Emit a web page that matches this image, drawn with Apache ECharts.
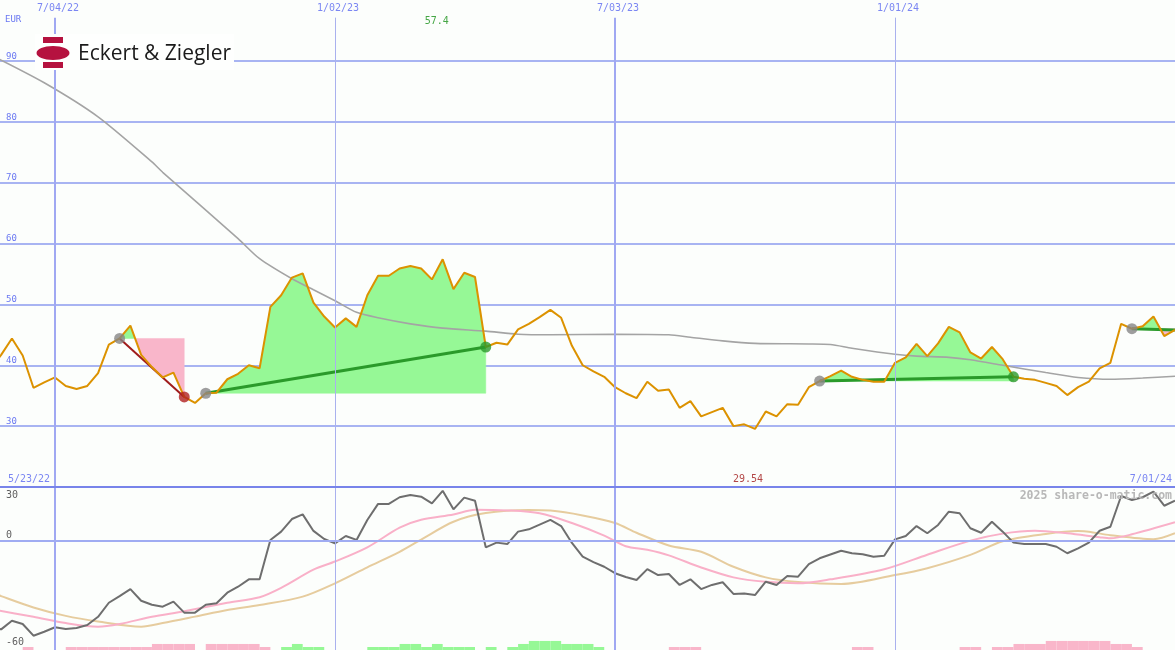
<!DOCTYPE html>
<html><head><meta charset="utf-8">
<script src="https://cdn.jsdelivr.net/npm/echarts@6/dist/echarts.min.js"></script>
<style>html,body{margin:0;padding:0;background:#fcfefc}#c{width:1175px;height:650px}</style>
</head><body><div id="c"></div>
<script>
// ---------- data ----------
const firstWeek = '2022-05-23';       // weekly points (Mondays)
const weekCount = 111;                 // 5/23/22 .. 7/01/24
const axisStart = '2022-05-29T06:00:00Z';
const axisEnd = '2024-07-01';

const price = [39.5,41.7,44.4,41.6,36.3,37.2,38.0,36.6,36.1,36.6,38.7,43.4,44.4,46.5,41.7,39.7,38.0,38.8,34.8,33.8,
  35.4,35.5,37.7,38.6,40.0,39.5,49.6,51.5,54.4,55.1,50.3,48.0,46.2,47.7,46.3,51.5,54.7,54.7,55.9,56.3,
  55.9,54.1,57.4,52.5,55.2,54.5,43.0,43.7,43.4,45.9,46.8,47.9,49.1,47.8,43.2,40.0,39.0,38.1,36.4,35.4,
  34.6,37.3,35.8,36.0,33.0,34.1,31.6,32.3,33.0,30.0,30.3,29.54,32.4,31.6,33.6,33.5,36.4,37.4,38.2,39.1,
  38.1,37.6,37.3,37.3,40.4,41.3,43.5,41.5,43.6,46.3,45.4,42.1,41.1,43.0,41.0,38.1,37.8,37.6,37.1,36.6,
  35.1,36.4,37.3,39.5,40.4,46.8,46.0,46.4,48.0,44.8,45.8];

const maWeeks = [0,5,10,15,16,23,25,28,30,32,34,36,39,42,46,49,52,58,63,65,68,71,76,78,80,84,86,89,91,94,98,101,104,107,110];
const maValues = [91.0,86.4,80.8,73.4,71.7,60.8,57.5,54.2,52.4,50.6,48.7,47.8,46.8,46.1,45.6,45.1,45.0,45.1,45.0,44.6,
  44.0,43.6,43.5,43.4,42.8,41.8,41.5,41.3,40.9,40.0,38.8,38.0,37.7,37.9,38.2];

const oscillator = [-47.8,-49.1,-44.3,-46.1,-52.6,-50.4,-47.9,-48.9,-48.3,-46.7,-42.1,-34.3,-30.6,-26.7,-33.2,-35.4,-36.5,-33.7,-39.8,-39.8,
  -35.4,-34.6,-28.7,-25.4,-21.3,-21.3,0.6,5.2,12.2,14.8,5.6,1.1,-1.3,2.8,0.6,11.7,20.6,20.6,24.3,25.6,
  24.6,20.9,27.9,17.6,24.1,22.4,-3.5,-0.9,-1.7,5.2,6.5,9.1,11.7,8.3,-1.1,-8.7,-11.7,-14.3,-17.9,-20.0,
  -21.7,-15.6,-18.9,-18.3,-24.4,-21.3,-26.7,-24.4,-22.9,-29.4,-29.1,-30.0,-22.6,-24.4,-19.4,-19.8,-12.8,-9.6,-7.5,-5.4,
  -6.8,-7.4,-8.7,-8.2,0.9,2.8,8.3,4.3,8.9,16.3,15.4,7.1,4.6,10.7,5.2,-0.9,-1.7,-1.7,-1.7,-3.2,
  -6.8,-4.1,-0.9,5.7,7.9,25.0,22.8,24.3,27.4,19.6,22.4];

const pinkWeeks = [0,4,7,10,12,15,18,22,25,27,30,32,35,38,40,43,45,48,51,54,57,59,61,63,66,69,72,75,78,83,87,91,94,97,100,103,104,106,110];
const pinkValues = [-37.8,-42.1,-45.6,-47.6,-46.1,-42.1,-39.0,-34.3,-31.2,-26.0,-15.9,-11.4,-3.5,7.4,11.8,14.7,17.4,17.0,15.4,10.0,
  3.0,-2.9,-4.9,-8.0,-14.7,-20.2,-22.7,-23.5,-21.3,-15.7,-7.6,0.2,4.1,5.7,4.3,2.1,1.5,3.7,10.4];

const tanWeeks = [0,1,4,7,10,14,16,19,22,25,29,32,35,38,40,43,46,50,52,55,58,60,63,66,69,72,75,79,84,87,91,94,98,101,102,104,108,110];
const tanValues = [-28.3,-30.6,-36.9,-41.6,-44.7,-47.6,-45.6,-42.0,-38.3,-35.6,-30.9,-23.5,-14.6,-6.0,0.8,10.7,15.5,17.2,16.9,14.2,
  10.0,4.6,-2.5,-6.0,-14.3,-20.2,-22.8,-23.9,-18.9,-15.1,-7.7,-0.1,3.9,5.5,5.2,3.2,1.0,4.3];

const signal = [0,0,0,-1,0,0,0,-1,-1,-1,-1,-1,-1,-1,-1,-2,-2,-2,-2,0,
  -2,-2,-2,-2,-2,-1,0,1,2,1,1,0,0,0,0,1,1,1,2,2,
  1,2,1,1,1,0,1,0,1,2,3,3,3,2,2,2,1,0,0,0,
  0,0,0,-1,-1,-1,0,0,0,0,0,0,0,0,0,0,0,0,0,0,
  -1,-1,0,0,0,0,0,0,0,0,-1,-1,0,-1,-1,-2,-2,-2,-3,-3,
  -3,-3,-3,-3,-2,-2,-1,0,0,0,0];

const tradeEntryWeek = [12, 20, 77, 106];
const tradeExitWeek = [18, 46, 95, 110];
const tradeEntryPrice = [44.4, 35.4, 37.4, 46.0];
const tradeExitPrice = [34.8, 43.0, 38.1, 45.8];
const tradeClosed = [true, true, true, false];

const gridDates = ['2022-07-04', '2023-01-02', '2023-07-03', '2024-01-01'];
const gridDateLabels = ['7/04/22', '1/02/23', '7/03/23', '1/01/24'];
const priceTicks = [30, 40, 50, 60, 70, 80, 90];
const maxText = '57.4', maxWeek = 42;
const minText = '29.54', minWeek = 71;
const startText = '5/23/22', endText = '7/01/24';

// ---------- build ----------
const DAY = 864e5;
const t0 = Date.parse(firstWeek);
const dates = [];
for (let i = 0; i < weekCount; i++) dates.push(t0 + i * 7 * DAY);
const xMin = Date.parse(axisStart), xMax = Date.parse(axisEnd);
const gridTs = gridDates.map(d => Date.parse(d));

const GREEN_FILL = '#96f896', PINK_FILL = '#f9b6ca';
const mono = 'DejaVu Sans Mono';

function fillRender(params, api) {
  const t = params.dataIndex;
  const ei = tradeEntryWeek[t], xi = tradeExitWeek[t], L = tradeEntryPrice[t];
  const children = [];
  const poly = (pts, s) => ({type: 'polygon', shape: {points: pts}, style: {fill: s < 0 ? PINK_FILL : GREEN_FILL, stroke: s < 0 ? PINK_FILL : GREEN_FILL, lineWidth: 0.5}});
  let run = [api.coord([dates[ei], L])];
  let runSign = 0;
  for (let j = ei; j <= xi; j++) {
    const p = price[j];
    const s = Math.sign(p - L);
    if (j > ei) {
      const p0 = price[j - 1];
      const s0 = Math.sign(p0 - L);
      if (s0 !== 0 && s !== 0 && s0 !== s) {
        const f = (p0 - L) / (p0 - p);
        const c = api.coord([dates[j - 1] + f * (dates[j] - dates[j - 1]), L]);
        run.push(c);
        children.push(poly(run, runSign));
        run = [c];
        runSign = 0;
      }
    }
    if (runSign === 0 && s !== 0) runSign = s;
    run.push(api.coord([dates[j], p]));
  }
  run.push(api.coord([dates[xi], L]));
  children.push(poly(run, runSign));
  return {type: 'group', children};
}

function barRender(params, api) {
  const i = params.dataIndex;
  const lv = signal[i];
  if (!lv || i + 1 >= weekCount) return null;
  const a = api.coord([dates[i], 0]);
  const b = api.coord([dates[i + 1], Math.abs(lv)]);
  return {type: 'rect', shape: {x: a[0], y: b[1], width: b[0] - a[0], height: a[1] - b[1]},
    style: {fill: lv > 0 ? GREEN_FILL : PINK_FILL}};
}

const priceData = price.map((v, i) => [dates[i], v]);
const oscData = oscillator.map((v, i) => [dates[i], v]);

const series = [];
// background grid lines (upper) - low z
series.push({
  type: 'line', xAxisIndex: 0, yAxisIndex: 0, data: priceData, z: 0, silent: true,
  symbol: 'none', lineStyle: {opacity: 0},
  markLine: {
    silent: true, symbol: 'none', animation: false, label: {show: false},
    data: gridTs.map((d, i) => [
      {coord: [d, 97.1], lineStyle: {color: i % 2 ? '#a9b1ee' : '#a0a8f2', width: i % 2 ? 1 : 2, type: 'solid'}},
      {coord: [d, 20]}
    ])
  }
});
// lower grid lines
series.push({
  type: 'line', xAxisIndex: 1, yAxisIndex: 1, data: oscData, z: 0, silent: true,
  symbol: 'none', lineStyle: {opacity: 0},
  markLine: {
    silent: true, symbol: 'none', animation: false,
    data: [
      ...gridTs.map((d, i) => ({xAxis: d, label: {show: false}, lineStyle: {color: i % 2 ? '#a9b1ee' : '#a0a8f2', width: i % 2 ? 1 : 2, type: 'solid'}})),
      {yAxis: 0, lineStyle: {color: '#a0acf2', width: 2, type: 'solid'},
        label: {show: true, formatter: '0', position: 'insideStartTop', distance: [6, 1], color: '#606060', fontFamily: mono, fontSize: 10}},
      {yAxis: -60, lineStyle: {color: 'rgba(0,0,0,0)', width: 1, type: 'solid'},
        label: {show: true, formatter: '-60', position: 'insideStartTop', distance: [6, 2], color: '#606060', fontFamily: mono, fontSize: 10}},
      {yAxis: 30, lineStyle: {color: '#7884ea', width: 2, type: 'solid'},
        label: {show: true, formatter: '30', position: 'insideStartBottom', distance: [6, 3], color: '#606060', fontFamily: mono, fontSize: 10}}
    ]
  }
});
// trade fills
series.push({
  type: 'custom', xAxisIndex: 0, yAxisIndex: 0, z: 1, silent: true, clip: true,
  data: tradeEntryWeek.map((e, t) => [dates[e], tradeEntryPrice[t]]),
  renderItem: fillRender
});
// moving average (gray)
series.push({
  type: 'line', xAxisIndex: 0, yAxisIndex: 0, z: 2, silent: true, symbol: 'none', smooth: 0.25,
  data: maWeeks.map((w, i) => [dates[w], maValues[i]]),
  lineStyle: {color: '#a4a4a4', width: 1.6}
});
// trade lines
tradeEntryWeek.forEach((e, t) => {
  const win = tradeExitPrice[t] >= tradeEntryPrice[t] || !tradeClosed[t];
  series.push({
    type: 'line', xAxisIndex: 0, yAxisIndex: 0, z: 3, silent: true, symbol: 'none',
    data: [[dates[e], tradeEntryPrice[t]], [dates[tradeExitWeek[t]], tradeExitPrice[t]]],
    lineStyle: {color: win ? '#2a9a2a' : '#a01c1c', width: win ? 3 : 2}
  });
});
// price line
series.push({
  type: 'line', xAxisIndex: 0, yAxisIndex: 0, z: 4, silent: true, symbol: 'none',
  data: priceData, lineStyle: {color: '#dc9200', width: 2}
});
// trade dots
const dots = [];
tradeEntryWeek.forEach((e, t) => {
  dots.push({value: [dates[e], tradeEntryPrice[t]], itemStyle: {color: '#868686'}});
  if (tradeClosed[t]) {
    const win = tradeExitPrice[t] >= tradeEntryPrice[t];
    dots.push({value: [dates[tradeExitWeek[t]], tradeExitPrice[t]], itemStyle: {color: win ? '#2a9a2a' : '#b02020'}});
  }
});
series.push({type: 'scatter', xAxisIndex: 0, yAxisIndex: 0, z: 5, silent: true, symbolSize: 11, data: dots});
// text labels placed through scales
const lbl = (value, text, color, align, offset) => ({value, name: text,
  label: {show: true, formatter: text, color, align, offset, position: 'inside', fontFamily: mono, fontSize: 10}});
series.push({
  type: 'scatter', xAxisIndex: 0, yAxisIndex: 0, z: 6, silent: true, symbolSize: 0,
  data: [
    ...gridTs.map((d, i) => lbl([d, 98.65], gridDateLabels[i], '#5a68f0', 'center', [3, 0])),
    lbl([dates[maxWeek], 96.55], maxText, '#169016', 'center', [-6, 0]),
    lbl([dates[minWeek], 21.3], minText, '#a01818', 'center', [-7, 0]),
    lbl([xMin, 21.3], startText, '#5a68f0', 'left', [8, 0]),
    lbl([xMax, 21.3], endText, '#5a68f0', 'right', [-3, 0])
  ]
});
// lower panel
series.push({type: 'custom', xAxisIndex: 1, yAxisIndex: 2, z: 1, silent: true, clip: true,
  data: signal.map((v, i) => [dates[i], Math.abs(v)]), renderItem: barRender});
series.push({type: 'line', xAxisIndex: 1, yAxisIndex: 1, z: 2, silent: true, symbol: 'none', smooth: 0.3,
  data: tanWeeks.map((w, i) => [dates[w], tanValues[i]]), lineStyle: {color: '#e6cc9e', width: 2}});
series.push({type: 'line', xAxisIndex: 1, yAxisIndex: 1, z: 3, silent: true, symbol: 'none', smooth: 0.3,
  data: pinkWeeks.map((w, i) => [dates[w], pinkValues[i]]), lineStyle: {color: '#f9b0c8', width: 2}});
series.push({type: 'line', xAxisIndex: 1, yAxisIndex: 1, z: 4, silent: true, symbol: 'none',
  data: oscData, lineStyle: {color: '#6e6e6e', width: 2}});

const option = {
  animation: false,
  backgroundColor: '#fcfefc',
  grid: [
    {left: 0, right: 0, top: 0, height: 487},
    {left: 0, right: 0, top: 487, height: 163}
  ],
  xAxis: [
    {type: 'time', gridIndex: 0, min: xMin, max: xMax, show: false},
    {type: 'time', gridIndex: 1, min: xMin, max: xMax, show: false}
  ],
  yAxis: [
    {type: 'value', gridIndex: 0, min: 20, max: 100, interval: 10,
      axisLine: {show: false}, axisTick: {show: false},
      splitLine: {show: true, showMinLine: false, showMaxLine: false, lineStyle: {color: '#a8b4f2', width: 2}},
      axisLabel: {inside: true, verticalAlign: 'bottom', margin: 6, color: '#6a78f2', fontFamily: mono, fontSize: 9,
        formatter: v => priceTicks.includes(v) ? String(v) : ''}},
    {type: 'value', gridIndex: 1, min: -60.55, max: 30, show: false},
    {type: 'value', gridIndex: 1, min: 0, max: 54, show: false}
  ],
  graphic: [
    {type: 'rect', z: 100, shape: {x: 35, y: 34, width: 199, height: 36}, style: {fill: '#fefffe'}},
    {type: 'rect', z: 101, shape: {x: 43, y: 37, width: 20, height: 6}, style: {fill: '#b5123f'}},
    {type: 'ellipse', z: 101, shape: {cx: 53, cy: 53, rx: 16.5, ry: 7}, style: {fill: '#b5123f'}},
    {type: 'rect', z: 101, shape: {x: 43, y: 62, width: 20, height: 6}, style: {fill: '#b5123f'}},
    {type: 'text', z: 101, x: 78, y: 54, style: {text: 'Eckert & Ziegler', fill: '#1a1a1a', font: '21px "Open Sans"', verticalAlign: 'middle'}},
    {type: 'text', z: 101, x: 5, y: 20, style: {text: 'EUR', fill: '#6a78f2', font: '9px "DejaVu Sans Mono"', verticalAlign: 'middle'}},
    {type: 'text', z: 101, x: 1172, y: 496, style: {text: '2025 share-o-matic.com', fill: '#b8b8b8', font: 'bold 11.5px "DejaVu Sans Mono"', align: 'right', verticalAlign: 'middle'}}
  ],
  series
};
const chart = echarts.init(document.getElementById('c'), null, {renderer: 'canvas'});
chart.setOption(option);
</script></body></html>
